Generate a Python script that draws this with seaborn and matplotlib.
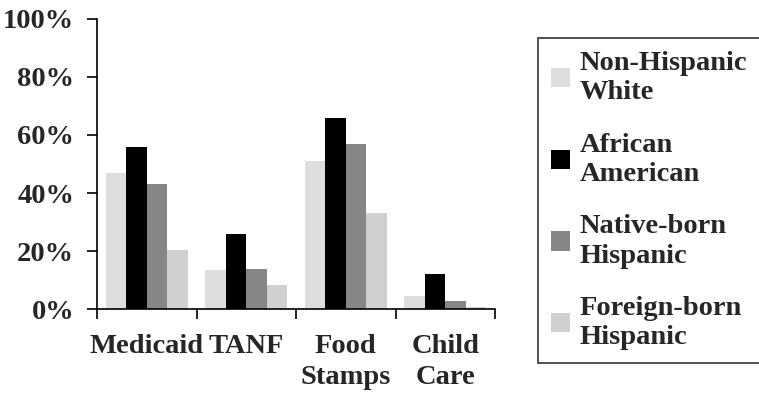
import matplotlib
matplotlib.use("Agg")
import matplotlib.pyplot as plt
from matplotlib.patches import Patch
from matplotlib.ticker import FixedLocator
import seaborn as sns
import pandas as pd

# Share of families receiving each benefit, by group (percent)
programs = ["Medicaid", "TANF", "Food\nStamps", "Child\nCare"]
non_hispanic_white = [47, 13.5, 51, 4.5]
african_american = [56, 26, 66, 12]
native_born_hispanic = [43, 14, 57, 3]
foreign_born_hispanic = [20.5, 8.5, 33, 0.7]

groups = ["Non-Hispanic\nWhite", "African\nAmerican",
          "Native-born\nHispanic", "Foreign-born\nHispanic"]
colors = ["#DEDEDE", "#000000", "#868686", "#D0D0D0"]
y_ticks = [0, 20, 40, 60, 80, 100]
y_tick_labels = ["0%", "20%", "40%", "60%", "80%", "100%"]

series = [non_hispanic_white, african_american,
          native_born_hispanic, foreign_born_hispanic]
df = pd.DataFrame([
    {"program": p, "group": g, "pct": v}
    for g, vals in zip(groups, series)
    for p, v in zip(programs, vals)
])

sns.set_style("white")
plt.rcParams["font.family"] = ["Liberation Serif", "DejaVu Serif"]
plt.rcParams["font.weight"] = "bold"
FS = 20.5

fig = plt.figure(figsize=(7.59, 3.94), dpi=100)
ax = fig.add_axes([97 / 759, 1 - 309.3 / 394, (495 - 97) / 759, (309.3 - 18.7) / 394])

sns.barplot(data=df, x="program", y="pct", hue="group", order=programs,
            hue_order=groups, palette=colors, width=0.82, gap=0,
            saturation=1, linewidth=0, edgecolor="none", legend=False, ax=ax)

ax.set_xlim(-0.5, len(programs) - 0.5)
ax.set_ylim(0, 100)
ax.set_xlabel("")
ax.set_ylabel("")

# category boundaries carry tick marks, names sit between them
ax.xaxis.set_major_locator(FixedLocator([i - 0.5 for i in range(len(programs) + 1)]))
ax.xaxis.set_minor_locator(FixedLocator(list(range(len(programs)))))
ax.set_xticklabels([], minor=False)
ax.set_xticklabels(programs, minor=True, fontsize=FS, fontweight="bold",
                   linespacing=1.3, va="top")
ax.tick_params(axis="x", which="major", direction="out", length=7.5,
               width=1.2, color="black", bottom=True)
ax.tick_params(axis="x", which="minor", length=0, pad=18)

ax.set_yticks(y_ticks)
ax.set_yticklabels(y_tick_labels, fontsize=FS, fontweight="bold")
ax.tick_params(axis="y", direction="out", length=7.5, width=1.2,
               color="black", left=True, pad=9)

for side in ["top", "right"]:
    ax.spines[side].set_visible(False)
for side in ["left", "bottom"]:
    ax.spines[side].set_color("black")
    ax.spines[side].set_linewidth(1.2)

handles = [Patch(facecolor=c, edgecolor="none") for c in colors]
leg = fig.legend(handles, groups, loc="upper left",
                 bbox_to_anchor=(538 / 759, 1 - 38 / 394),
                 prop={"size": FS, "weight": "bold"},
                 frameon=True, fancybox=False, borderpad=0.45,
                 handlelength=0.67, handleheight=0.67, handletextpad=0.35,
                 labelspacing=0.97, borderaxespad=0)
frame = leg.get_frame()
frame.set_edgecolor("black")
frame.set_linewidth(1.2)
for t in leg.get_texts():
    t.set_linespacing(1.22)

fig.savefig("out.png", dpi=100)
